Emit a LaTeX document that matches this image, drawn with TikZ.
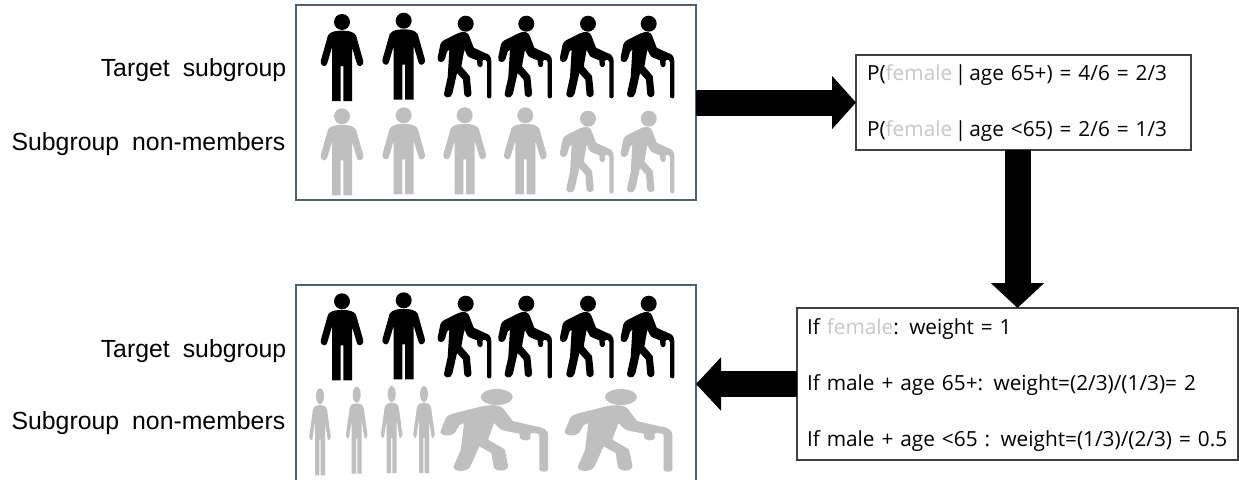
\documentclass[tikz,border=0pt]{standalone}
\usepackage{fontspec}
\setmainfont[WordSpace=0.7]{Open Sans}
\newfontfamily\labelfont[WordSpace=1.9]{Liberation Sans}
\usetikzlibrary{arrows.meta}
\definecolor{figgrey}{HTML}{BFBFBF}
\definecolor{femalegrey}{HTML}{C8C8C8}
\definecolor{frameblue}{HTML}{4A6274}
\definecolor{framegrey}{HTML}{404040}
\newcommand{\fem}{\textcolor{femalegrey}{female}}
\newcommand{\lineprop}{\rule[-5pt]{0pt}{19pt}}
\tikzset{
  figframe/.style={draw=frameblue,line width=1.5pt,fill=white,minimum width=400.5*0.75pt,outer sep=0pt,inner sep=0pt},
  calcbox/.style={draw=framegrey,line width=1.1pt,fill=white,outer sep=0pt,align=left,font=\fontsize{15.6}{42}\selectfont},
  sidelabel/.style={anchor=base east,inner sep=0pt,font=\labelfont\fontsize{18.6}{20}\selectfont},
  blockarrow/.style={line width=19.5pt,draw=black},
  pics/man/.style={code={
    \begin{scope}[xscale=1/3,yscale=1/3,shift={(0,-12)}]
      \fill (0,36) circle[radius=24];
      \fill (0,62) .. controls (18,62) and (34,64) .. (42,76)
        -- (63,150) .. controls (67,162) and (58,169) .. (51,168)
        .. controls (47,167) and (45,163) .. (43,156)
        -- (30,112) -- (30,273) -- (4,273) -- (4,168) -- (-4,168) -- (-4,273) -- (-30,273) -- (-30,112)
        -- (-43,156) .. controls (-45,163) and (-47,167) .. (-51,168)
        .. controls (-58,169) and (-67,162) .. (-63,150)
        -- (-42,76) .. controls (-34,64) and (-18,62) .. (0,62) -- cycle;
    \end{scope}}},
  pics/elder/.style={code={
    \begin{scope}[xscale=1/3,yscale=1/3,shift={(-92,-16)}]
      \fill (92,40) circle[radius=24];
      \fill (68,69) .. controls (76,65) and (84,64) .. (90,65)
        .. controls (98,67) and (101,72) .. (103,78)
        -- (116,112) -- (150,128)
        .. controls (162,130) and (169,140) .. (169,153)
        -- (169,258) .. controls (169,266) and (156,266) .. (156,258)
        -- (156,155) .. controls (156,150) and (150,148) .. (146,148)
        .. controls (141,150) and (141,155) .. (143,160)
        .. controls (144,172) and (130,174) .. (127,163)
        -- (126,150) -- (106,142) .. controls (100,140) and (97,137) .. (95,132)
        -- (88,118) -- (79,168) -- (104,197) -- (109,245)
        .. controls (111,266) and (86,266) .. (87,245)
        -- (84,208) -- (66,188) -- (52,250)
        .. controls (47,268) and (22,264) .. (28,245)
        -- (38,200) -- (43,118) -- (36,124) -- (30,145)
        .. controls (26,160) and (4,158) .. (8,140)
        -- (16,102) .. controls (18,96) and (22,93) .. (26,90) -- cycle;
    \end{scope}}}
}
\begin{document}
\begin{tikzpicture}[x=0.75pt,y=-0.75pt]
\useasboundingbox (0,0) rectangle (1239,479);
\clip (0,0) rectangle (1239,479);
% frames
\node[figframe,minimum height=195*0.75pt] (f1) at (495.75,102.5) {};
\node[figframe,minimum height=198*0.75pt] (f2) at (495.75,384) {};
% calculation boxes
\node[calcbox,text width=234.75pt,inner xsep=8.25pt,inner ysep=0pt,minimum height=95*0.75pt] (p) at (1023.5,102.5)
  {\lineprop P(\fem\hspace{2pt}|\hspace{2.2pt}age 65+) = 4/6 = 2/3\\\lineprop P(\fem\hspace{2pt}|\hspace{2.2pt}age <65) = 2/6 = 1/3};
\node[calcbox,text width=315.75pt,inner xsep=7.5pt,inner ysep=0pt,minimum height=152*0.75pt] (w) at (1017.5,384)
  {\lineprop If \fem: weight = 1\\\lineprop If male + age 65+: weight=(2/3)/(1/3)= 2\\\lineprop If male + age <65 : weight=(1/3)/(2/3) = 0.5};
% block arrows
\draw[blockarrow,-{Triangle[length=18pt,width=39pt]}] (f1.east) -- (p.west);
\draw[blockarrow,-{Triangle[length=18.75pt,width=39pt]}] (w.north |- p.south) -- (w.north);
\draw[blockarrow,-{Triangle[length=18.75pt,width=39pt]}] (w.west) -- (f2.east);
% labels
\node[sidelabel] (l1) at (286.5,76.5) {Target subgroup};
\node[sidelabel] (l2) at (285.5,150) {Subgroup non-members};
\node[sidelabel] (l3) at (286.5,357) {Target subgroup};
\node[sidelabel] (l4) at (285.5,429) {Subgroup non-members};
% top panel
\pic[fill=black] at (342,14) {man};
\pic[fill=black] at (403.7,12.7) {man};
\pic[fill=black] at (465.7,15.7) {elder};
\pic[fill=black] at (526.3,15.7) {elder};
\pic[fill=black] at (588,15.7) {elder};
\pic[fill=black] at (648.7,15.7) {elder};
\pic[fill=figgrey] at (342,108.3) {man};
\pic[fill=figgrey] at (403.7,107.3) {man};
\pic[fill=figgrey] at (464.7,107.3) {man};
\pic[fill=figgrey] at (525.3,107.3) {man};
\pic[fill=figgrey] at (588,110.7) {elder};
\pic[fill=figgrey] at (648.7,110.7) {elder};
% bottom panel
\pic[fill=black] at (342,293.3) {man};
\pic[fill=black] at (403.7,292.3) {man};
\pic[fill=black] at (465.7,295.7) {elder};
\pic[fill=black] at (526.3,295.7) {elder};
\pic[fill=black] at (588,295.7) {elder};
\pic[fill=black] at (648.7,295.7) {elder};
\pic[fill=figgrey,xscale=0.5] at (320,388.3) {man};
\pic[fill=figgrey,xscale=0.5] at (356.7,386.7) {man};
\pic[fill=figgrey,xscale=0.5] at (391.7,386) {man};
\pic[fill=figgrey,xscale=0.5] at (424,386) {man};
\pic[fill=figgrey,xscale=2] at (496.7,389) {elder};
\pic[fill=figgrey,xscale=2] at (621,389) {elder};
\end{tikzpicture}
\end{document}
